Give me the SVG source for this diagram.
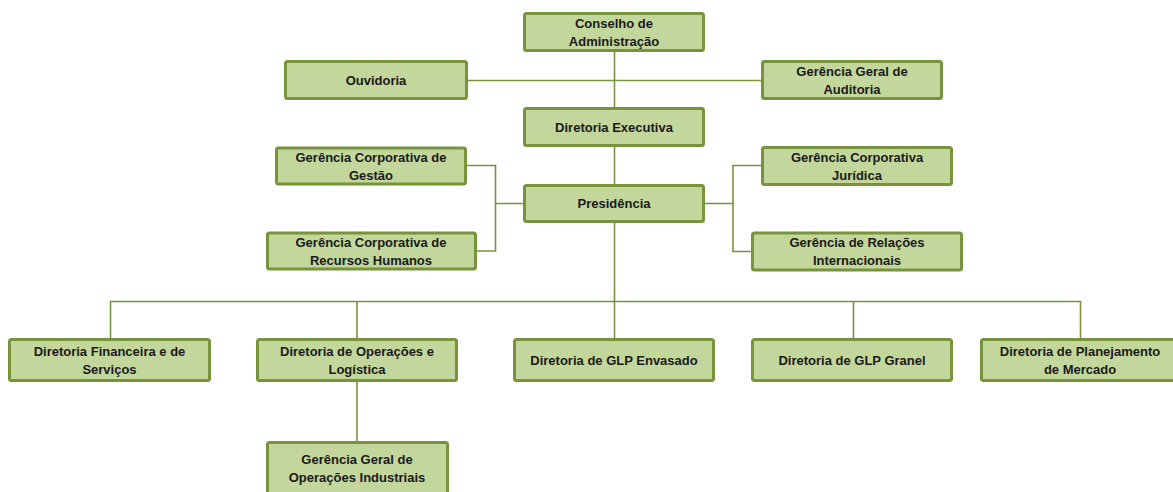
<svg xmlns="http://www.w3.org/2000/svg" width="1173" height="492" viewBox="0 0 1173 492">
<style>
.box{fill:#C3D69B;stroke:#77933C;stroke-width:3}
.t{font-family:"Liberation Sans",Arial,sans-serif;font-weight:bold;font-size:13px;fill:#1a1a1a;text-anchor:middle}
.c{fill:none;stroke:#77933C;stroke-width:1.6}
</style>
<rect width="1173" height="492" fill="#ffffff"/>
<g id="connectors">
<path class="c" d="M614.5 52V107M468 80.5H761M614.5 147V184M614.5 223V338M110 301.5H1080.5M110.5 301V338M357 301V338M853.5 301V338M1080.5 301V338M357 382V441"/>
<path class="c" d="M467 165.5H495.5V251H477M495.5 203.5H523"/>
<path class="c" d="M705 203.5H733M761 165.5H733V251.5H751"/>
</g>
<g id="conselho"><rect class="box" x="524.5" y="13.5" width="179" height="37" rx="2"/><text class="t" x="614" y="27.5">Conselho de</text><text class="t" x="614" y="45.5">Administração</text></g>
<g id="ouvidoria"><rect class="box" x="285.5" y="61.5" width="181" height="37" rx="2"/><text class="t" x="376" y="84.5">Ouvidoria</text></g>
<g id="auditoria"><rect class="box" x="762.5" y="61.5" width="179" height="37" rx="2"/><text class="t" x="852" y="75.5">Gerência Geral de</text><text class="t" x="852" y="93.5">Auditoria</text></g>
<g id="diretoria-executiva"><rect class="box" x="524.5" y="108.5" width="179" height="37" rx="2"/><text class="t" x="614" y="131.5">Diretoria Executiva</text></g>
<g id="gc-gestao"><rect class="box" x="276.5" y="148" width="189" height="36" rx="2"/><text class="t" x="371" y="161.5">Gerência Corporativa de</text><text class="t" x="371" y="179.5">Gestão</text></g>
<g id="presidencia"><rect class="box" x="524.5" y="185.5" width="179" height="36" rx="2"/><text class="t" x="614" y="208">Presidência</text></g>
<g id="gc-rh"><rect class="box" x="267.5" y="233" width="208" height="36" rx="2"/><text class="t" x="371" y="246.5">Gerência Corporativa de</text><text class="t" x="371" y="264.5">Recursos Humanos</text></g>
<g id="gc-juridica"><rect class="box" x="762.5" y="147.5" width="189" height="37" rx="2"/><text class="t" x="857" y="161.5">Gerência Corporativa</text><text class="t" x="857" y="179.5">Jurídica</text></g>
<g id="gri"><rect class="box" x="752.5" y="233" width="209" height="37" rx="2"/><text class="t" x="857" y="247">Gerência de Relações</text><text class="t" x="857" y="265">Internacionais</text></g>
<g id="dfs"><rect class="box" x="9.5" y="339.5" width="200" height="41" rx="2"/><text class="t" x="109.5" y="355.5">Diretoria Financeira e de</text><text class="t" x="109.5" y="373.5">Serviços</text></g>
<g id="dol"><rect class="box" x="257.5" y="339.5" width="199" height="41" rx="2"/><text class="t" x="357" y="355.5">Diretoria de Operações e</text><text class="t" x="357" y="373.5">Logística</text></g>
<g id="envasado"><rect class="box" x="514.5" y="339.5" width="199" height="41" rx="2"/><text class="t" x="614" y="364.5">Diretoria de GLP Envasado</text></g>
<g id="granel"><rect class="box" x="752.5" y="339.5" width="199" height="41" rx="2"/><text class="t" x="852" y="364.5">Diretoria de GLP Granel</text></g>
<g id="planejamento"><rect class="box" x="981.5" y="339.5" width="200" height="41" rx="2"/><text class="t" x="1080" y="355.5">Diretoria de Planejamento</text><text class="t" x="1080" y="373.5">de Mercado</text></g>
<g id="ggoi"><rect class="box" x="267.5" y="442.5" width="180" height="54" rx="2"/><text class="t" x="357" y="464">Gerência Geral de</text><text class="t" x="357" y="482">Operações Industriais</text></g>
</svg>
